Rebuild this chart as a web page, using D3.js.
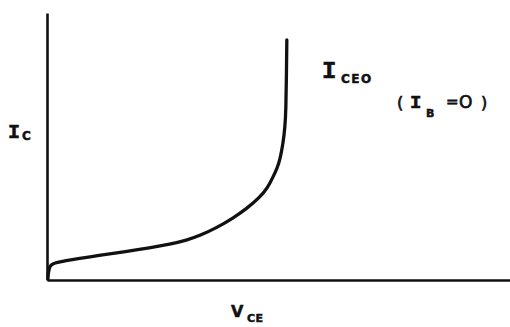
<!DOCTYPE html>
<html>
<head>
<meta charset="utf-8">
<script src="https://cdn.jsdelivr.net/npm/d3@7"></script>
<style>
  html, body { margin: 0; padding: 0; background: #fff; }
  svg { display: block; }
  .sym { font-family: "Liberation Mono", monospace; font-weight: bold; fill: #111; stroke: #111; stroke-width: 0.6; }
  .sub { font-family: "DejaVu Sans", sans-serif; font-weight: bold; fill: #111; stroke: #111; stroke-width: 0.5; }
  .reg { font-family: "DejaVu Sans", sans-serif; fill: #111; stroke: #111; stroke-width: 0.7; }
</style>
</head>
<body>
<div id="chart"></div>
<script>
// I_CEO curve (I_B = 0), arbitrary units
const vce = [0.02, 0.03, 0.06, 0.13, 0.50, 1.14, 1.70, 2.22, 2.66, 3.02, 3.30, 3.67, 4.02, 4.32, 4.60, 4.77, 4.88, 4.97, 5.03, 5.10, 5.14, 5.16, 5.17, 5.18];
const ic  = [0.04, 0.30, 0.52, 0.64, 0.75, 0.93, 1.06, 1.20, 1.34, 1.49, 1.66, 1.96, 2.32, 2.68, 3.10, 3.47, 3.85, 4.19, 4.49, 5.13, 5.73, 6.37, 7.49, 8.99];

(() => {
    const width = 510, height = 327, margin = { top: 13, right: 0, bottom: 47, left: 47 };

    const svg = d3.select("#chart").append("svg")
        .attr("width", width)
        .attr("height", height);

    const x = d3.scaleLinear().domain([0, 10]).range([margin.left, width - margin.right]);
    const y = d3.scaleLinear().domain([0, 10]).range([height - margin.bottom, margin.top]);

    // axes: bare lines, no ticks
    svg.append("g")
        .attr("transform", `translate(0,${y(0)})`)
        .call(d3.axisBottom(x).ticks(0).tickSizeOuter(0))
        .select(".domain")
        .attr("stroke", "#111")
        .attr("stroke-width", 2.6);

    svg.append("g")
        .attr("transform", `translate(${x(0)},0)`)
        .call(d3.axisLeft(y).ticks(0).tickSizeOuter(0))
        .select(".domain")
        .attr("stroke", "#111")
        .attr("stroke-width", 2.6);

    const pts = vce.map((v, i) => [v, ic[i]]);
    const line = d3.line()
        .x(d => x(d[0]))
        .y(d => y(d[1]))
        .curve(d3.curveBasis);

    svg.append("path")
        .datum(pts)
        .attr("d", line)
        .attr("fill", "none")
        .attr("stroke", "#111")
        .attr("stroke-width", 3.3)
        .attr("stroke-linecap", "round");

    // labels, each piece placed on its own
    const put = (cls, size, px, py, s, ls) => svg.append("text")
        .attr("class", cls)
        .attr("x", px).attr("y", py)
        .style("font-size", size + "px")
        .style("letter-spacing", (ls || 0) + "px")
        .text(s);

    put("sym", 20, 8, 138, "I");
    put("sub", 12, 22, 140, "C");

    put("sym", 24, 322, 78, "I");
    put("sub", 12, 341, 83, "CEO", 1.5);

    put("reg", 16, 397, 108, "(");
    put("sym", 19, 410, 108, "I");
    put("sub", 11, 426, 117, "B");
    put("reg", 15, 446, 107, "=");
    put("reg", 17, 459, 108, "O");
    put("reg", 16, 481, 108, ")");

    put("sub", 16, 231, 317, "V");
    put("sub", 11, 247, 322, "CE", 0.5);
})();
</script>
</body>
</html>
